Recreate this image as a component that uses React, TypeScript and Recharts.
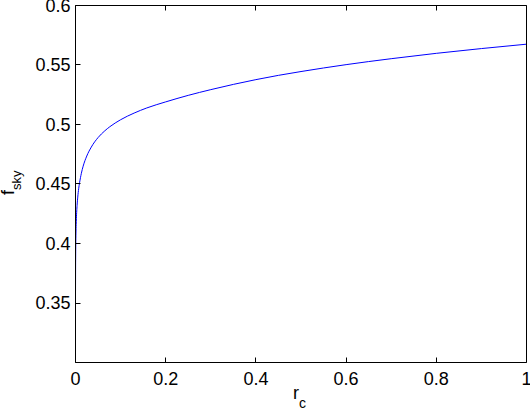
import { LineChart, Line, XAxis, YAxis, Label } from 'recharts'

const rValues = [0.00005, 0.0002, 0.0005, 0.001, 0.002, 0.0035, 0.005, 0.007, 0.009, 0.013, 0.017, 0.025, 0.035, 0.05, 0.065, 0.076, 0.1, 0.13, 0.158, 0.2, 0.25, 0.3, 0.35, 0.4, 0.45, 0.5, 0.6, 0.7, 0.8, 0.9, 1.0]
const fSky = [0.36, 0.378, 0.395, 0.408, 0.421, 0.432, 0.439, 0.446, 0.451, 0.459, 0.465, 0.4735, 0.481, 0.489, 0.4947, 0.4981, 0.504, 0.5096, 0.5139, 0.519, 0.5245, 0.5293, 0.5337, 0.5377, 0.5413, 0.5445, 0.5503, 0.5553, 0.5598, 0.5638, 0.5675]
const xTicks = [0, 0.2, 0.4, 0.6, 0.8, 1]
const yTicks = [0.3, 0.35, 0.4, 0.45, 0.5, 0.55, 0.6]

const data = rValues.map((r, i) => ({ r, f: fSky[i] }))

const FONT = 'Liberation Sans, Arial, Helvetica, sans-serif'
const TICK_LEN = 5
const crisp = (v: number) => Math.floor(v) + 0.5

const XLabel = () => (
  <text x={293} y={399} fontFamily={FONT} fontSize={18} fill="#000">
    r<tspan dy={9} fontSize={14}>c</tspan>
  </text>
)

const YLabel = () => (
  <text transform="translate(14,195) rotate(-90)" fontFamily={FONT} fontSize={18} fill="#000">
    f<tspan dy={7} fontSize={13}>sky</tspan>
  </text>
)

// MATLAB style: ticks point into the box
const BottomTick = (props: any) => {
  const { x, y, payload } = props
  const cx = crisp(x)
  return (
    <g>
      <path d={`M${cx},${y}L${cx},${y - TICK_LEN}`} stroke="#000" strokeWidth={1} />
      <text x={x} y={y + 10} dy="0.71em" textAnchor="middle" fontFamily={FONT} fontSize={18} fill="#000">
        {String(payload.value)}
      </text>
    </g>
  )
}

const TopTick = (props: any) => {
  const { x, y } = props
  const cx = crisp(x)
  return <path d={`M${cx},${y}L${cx},${y + TICK_LEN}`} stroke="#000" strokeWidth={1} />
}

const LeftTick = (props: any) => {
  const { x, y, payload } = props
  const cy = crisp(y)
  return (
    <g>
      <path d={`M${x},${cy}L${x + TICK_LEN},${cy}`} stroke="#000" strokeWidth={1} />
      {payload.value !== 0.3 && (
        <text x={x - 5} y={y} dy="0.355em" textAnchor="end" fontFamily={FONT} fontSize={18} fill="#000">
          {String(payload.value)}
        </text>
      )}
    </g>
  )
}

const RightTick = (props: any) => {
  const { x, y } = props
  const cy = crisp(y)
  return <path d={`M${x},${cy}L${x - TICK_LEN},${cy}`} stroke="#000" strokeWidth={1} />
}

export default function App() {
  return (
    <div style={{ position: 'absolute', left: 0, top: 0, width: 530, height: 410, background: '#fff' }}>
      <LineChart width={530} height={410} data={data} margin={{ top: 4.5, right: 2.5, bottom: 0, left: 0 }}>
        <XAxis xAxisId="b" dataKey="r" type="number" domain={[0, 1]} ticks={xTicks} height={47.5} stroke="#000"
          tickLine={false} tickSize={0} tickMargin={0} tick={<BottomTick />} interval={0}>
          <Label content={<XLabel />} />
        </XAxis>
        <XAxis xAxisId="t" orientation="top" dataKey="r" type="number" domain={[0, 1]} ticks={xTicks} height={1} stroke="#000"
          tickLine={false} tickSize={0} tickMargin={0} tick={<TopTick />} interval={0} />
        <YAxis yAxisId="l" type="number" domain={[0.3, 0.6]} ticks={yTicks} width={75.5} stroke="#000"
          tickLine={false} tickSize={0} tickMargin={0} tick={<LeftTick />} interval={0}>
          <Label content={<YLabel />} />
        </YAxis>
        <YAxis yAxisId="r" orientation="right" type="number" domain={[0.3, 0.6]} ticks={yTicks} width={1} stroke="#000"
          tickLine={false} tickSize={0} tickMargin={0} tick={<RightTick />} interval={0} />
        <Line xAxisId="b" yAxisId="l" dataKey="f" type="monotone" stroke="#0000ff" strokeWidth={1} dot={false} isAnimationActive={false} />
      </LineChart>
    </div>
  )
}
